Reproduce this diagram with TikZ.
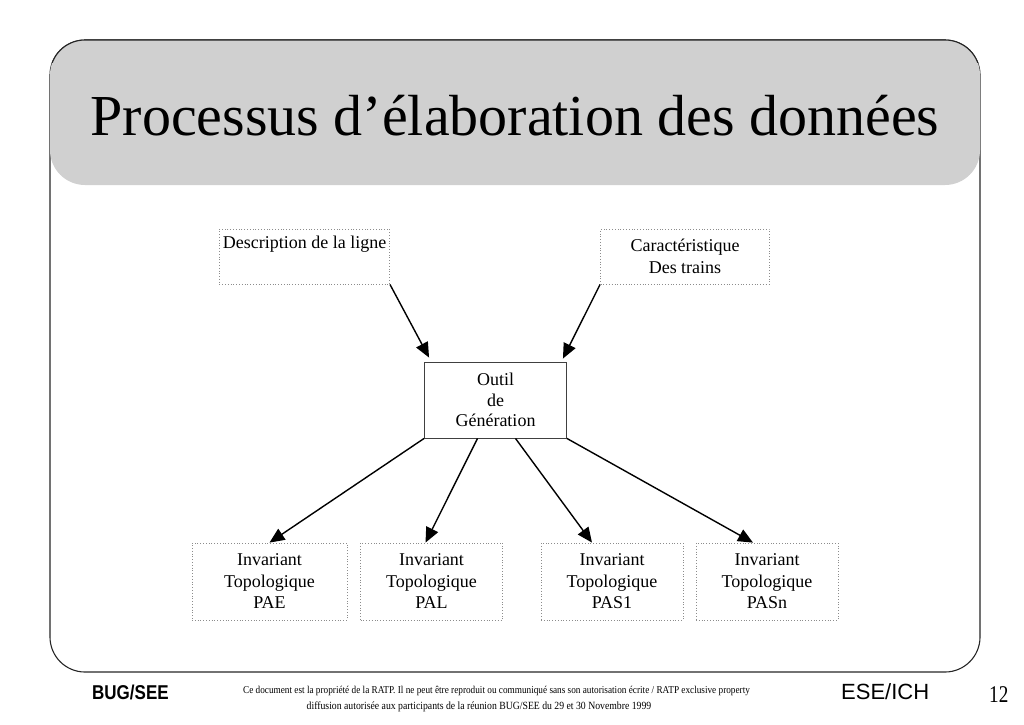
\documentclass[tikz,border=0pt]{standalone}
\usepackage{fontspec}
\setmainfont{Liberation Serif}
\setsansfont{Liberation Sans}
\usepackage{graphicx}
\usepackage{tikz}
\usetikzlibrary{arrows.meta,calc}
\definecolor{headgray}{RGB}{208,208,208}
\definecolor{boxgray}{RGB}{140,140,140}

\begin{document}
\begin{tikzpicture}[x=1pt,y=-1pt,
  frame/.style={draw=black!85,line width=1.1pt},
  dotbox/.style={draw=boxgray,dotted,line width=0.8pt,align=center,
    font=\fontsize{18}{21.5}\selectfont},
  srcbox/.style={dotbox,minimum width=169pt,minimum height=55pt},
  invbox/.style={dotbox,minimum width=142pt,minimum height=77pt},
  toolbox/.style={draw=black!75,line width=0.9pt,align=center,
    minimum width=142pt,minimum height=76pt,font=\fontsize{18}{20.5}\selectfont},
  foot/.style={inner sep=0pt},
  arr/.style={-{Triangle[length=15pt,width=13pt]},line width=1.4pt}]
  \useasboundingbox (0,0) rectangle (1024,724);

  % cadre et bandeau du titre
  \draw[frame,rounded corners=35pt] (50,40) rectangle (980,672);
  \fill[headgray,rounded corners=35pt] (50,40) rectangle (980,185);
  \begin{scope}
    \clip (0,0) rectangle (1024,62);
    \draw[frame,rounded corners=35pt] (50,40) rectangle (980,672);
  \end{scope}
  \node[anchor=base,font=\fontsize{58}{70}\selectfont] (title) at (515,135)
    {Processus d’élaboration des données};

  % les boites
  \node[srcbox] (desc) at (304.5,256.5) {Description de la ligne\\ \strut};
  \node[srcbox] (car) at (685,256.5) {Caractéristique\\Des trains};
  \node[toolbox] (outil) at (495.5,400) {Outil\\de\\Génération};
  \node[invbox,minimum width=155pt] (pae) at (269.5,581.5) {Invariant\\Topologique\\PAE};
  \node[invbox] (pal) at (431.5,581.5) {Invariant\\Topologique\\PAL};
  \node[invbox] (pas1) at (612,581.5) {Invariant\\Topologique\\PAS1};
  \node[invbox] (pasn) at (767,581.5) {Invariant\\Topologique\\PASn};

  \path[arr]
  (desc.south east) edge ([xshift=5pt,yshift=4pt]outil.north west)
  (car.south west) edge ([xshift=-4pt,yshift=3pt]outil.north east)
  (outil.south west) edge (pae.north)
  ([xshift=-18pt]outil.south) edge ([xshift=-6pt]pal.north)
  ([xshift=20pt]outil.south) edge ([xshift=-20pt]pas1.north)
  (outil.south east) edge ([xshift=-14pt]pasn.north);

  % pied de page
  \node[foot,anchor=base west,font=\sffamily\bfseries\fontsize{20}{24}\selectfont] (bug)
    at (92,699) {\scalebox{0.85}[1]{BUG/SEE}};
  \node[foot,anchor=base,font=\fontsize{10.5}{12}\selectfont] (note1) at (496.5,693)
    {\scalebox{0.88}[1]{Ce document est la propriété de la RATP. Il ne peut être reproduit ou communiqué sans son autorisation écrite / RATP exclusive property}};
  \node[foot,anchor=base,font=\fontsize{11}{13}\selectfont] (note2) at (479,709)
    {\scalebox{0.885}[1]{diffusion autorisée aux participants de la réunion BUG/SEE du 29 et 30 Novembre 1999}};
  \node[foot,anchor=base west,font=\sffamily\fontsize{22}{26}\selectfont] (ese)
    at (841,699) {ESE/ICH};
  \node[foot,anchor=base west,font=\fontsize{24}{28}\selectfont] (num)
    at (989,702) {\scalebox{0.8}[1]{12}};
\end{tikzpicture}
\end{document}
